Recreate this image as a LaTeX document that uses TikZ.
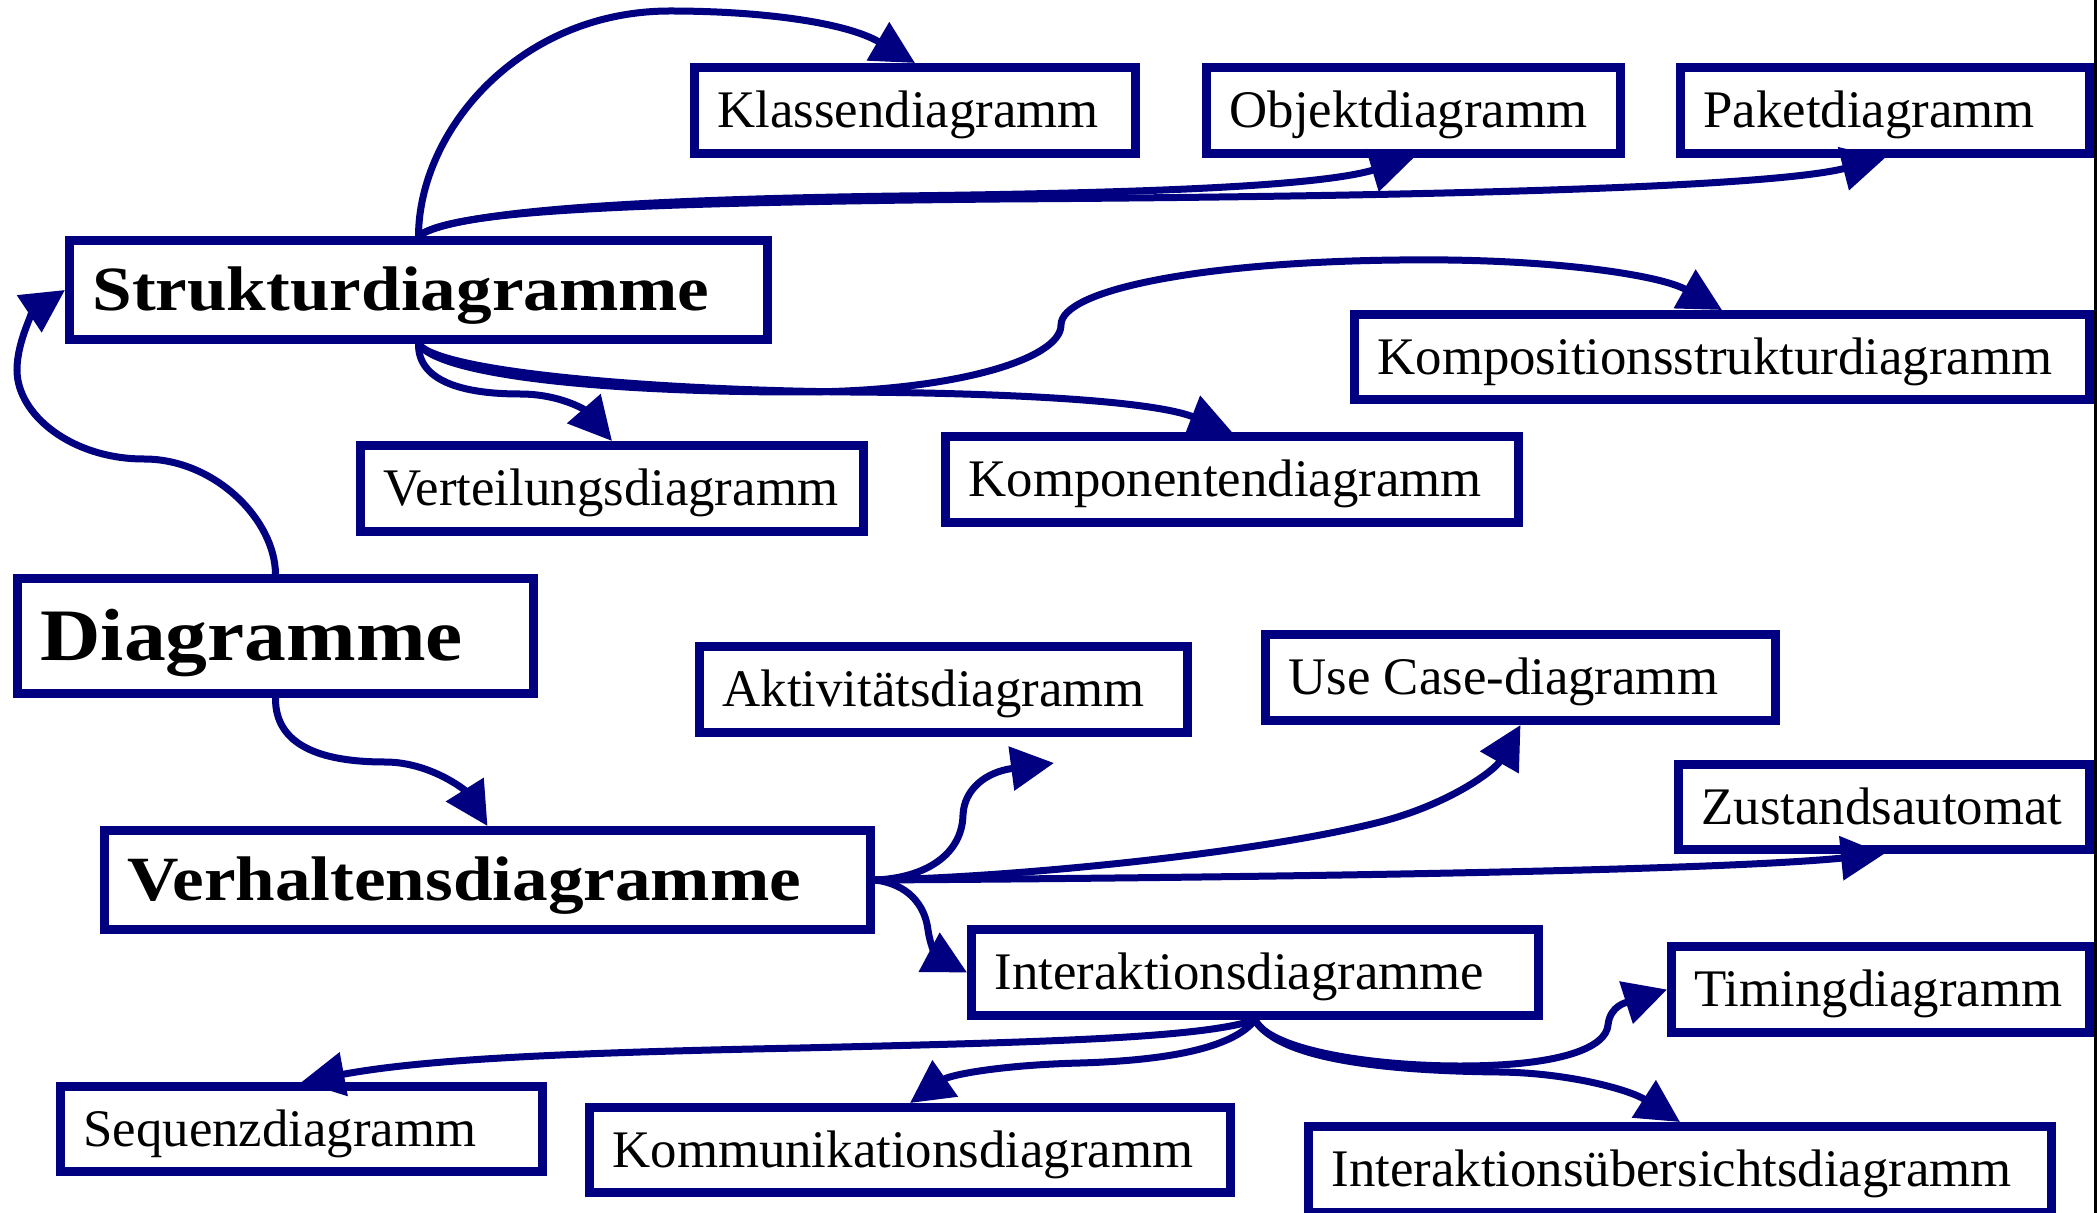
\documentclass[tikz,border=0pt]{standalone}
\usepackage{fontspec}
\setmainfont{Liberation Serif}
\newfontfamily\umlheadfont{Liberation Serif}[FakeStretch=1.13]
\usetikzlibrary{arrows.meta}
\definecolor{navyline}{RGB}{0,0,128}

\tikzset{
  umlbox/.style={draw=navyline, line width=4.5pt, fill=white, text=black,
    anchor=north west, inner sep=0pt, outer sep=2.25pt,
    text height=17.4pt, text depth=0pt,
    font=\fontsize{26.4pt}{31pt}\selectfont},
  umlhead/.style={font=\umlheadfont\bfseries\fontsize{31.5pt}{38pt}\selectfont, text height=20.9pt},
  umltop/.style={font=\umlheadfont\bfseries\fontsize{37pt}{44pt}\selectfont, text height=24.5pt},
  conn/.style={draw=navyline, line width=3.5pt,
    -{Triangle[length=21.5pt,width=21.5pt]}},
}

% box with outer edges L,T,R,B (in px); label set flush left
\newcommand{\umlbox}[7][]{%
  \pgfmathsetmacro{\umlbw}{(#5-#3-9)*0.5}%
  \pgfmathsetmacro{\umlbh}{(#6-#4-9)*0.5}%
  \node[umlbox,#1,minimum width=\umlbw pt,minimum height=\umlbh pt] (#2) at (#3,#4)
    {\makebox[\umlbw pt][l]{\hspace*{11.5pt}#7}};%
}

\begin{document}
\begin{tikzpicture}[x=0.5pt,y=-0.5pt]
\fill[white] (0,0) rectangle (2098,1213);
\useasboundingbox (0,0) rectangle (2098,1213);

% structure diagrams
\umlbox{klassen}{690}{63}{1140}{158}{Klassendiagramm}
\umlbox{objekt}{1202}{63}{1625}{158}{Objektdiagramm}
\umlbox{paket}{1676}{63}{2094}{158}{Paketdiagramm}
\umlbox[umlhead]{struktur}{65}{236}{772}{344}{Strukturdiagramme}
\umlbox{kompos}{1350}{310}{2094}{404}{Kompositionsstrukturdiagramm}
\umlbox{verteil}{356}{441}{868}{536}{Verteilungsdiagramm}
\umlbox{kompon}{941}{432}{1523}{527}{Komponentendiagramm}

% root
\umlbox[umltop]{diagramme}{13}{574}{538}{698}{Diagramme}

% behaviour diagrams
\umlbox{aktiv}{695}{642}{1192}{737}{Aktivitätsdiagramm}
\umlbox{usecase}{1261}{630}{1780}{725}{Use Case-diagramm}
\umlbox{zustand}{1674}{760}{2094}{854}{Zustandsautomat}
\umlbox[umlhead]{verhalten}{100}{826}{875}{934}{Verhaltensdiagramme}
\umlbox{interakt}{967}{925}{1543}{1020}{Interaktionsdiagramme}
\umlbox{timing}{1667}{942}{2094}{1037}{Timingdiagramm}
\umlbox{sequenz}{56}{1082}{547}{1176}{Sequenzdiagramm}
\umlbox{kommun}{585}{1103}{1235}{1197}{Kommunikationsdiagramm}
\umlbox{uebersicht}{1304}{1122}{2056}{1217}{Interaktionsübersichtsdiagramm}

\coordinate (aktTip) at (1054,763);

% connectors
\draw[conn] (diagramme.north) .. controls (275,520) and (215,459) .. (144,459)
  .. controls (72,459) and (17,415) .. (17,370)
  .. controls (17,340) and (35,310) .. (struktur.west);

\draw[conn] (struktur.north) .. controls (419,130) and (520,11) .. (670,11)
  .. controls (760,11) and (845,22) .. (klassen.north);
\draw[conn] (struktur.north) .. controls (450,214) and (600,200) .. (900,196)
  .. controls (1150,193) and (1320,186) .. (objekt.south);
\draw[conn] (struktur.north) .. controls (450,212) and (600,203) .. (1000,199)
  .. controls (1500,196) and (1780,185) .. (paket.south);

\draw[conn] (struktur.south) .. controls (418,380) and (460,394) .. (520,394)
  .. controls (560,394) and (585,410) .. (verteil.north);
\draw[conn] (struktur.south) .. controls (440,375) and (600,392) .. (800,392)
  .. controls (950,392) and (1061,360) .. (1061,325)
  .. controls (1061,290) and (1200,262) .. (1400,260)
  .. controls (1550,258) and (1660,275) .. (kompos.north);
\draw[conn] (struktur.south) .. controls (440,372) and (650,390) .. (850,392)
  .. controls (1000,393) and (1150,400) .. (kompon.north);

\draw[conn] (diagramme.south) .. controls (275,745) and (320,762) .. (385,762)
  .. controls (430,762) and (465,790) .. (verhalten.north);

\draw[conn] (verhalten.east) .. controls (925,878) and (962,855) .. (963,815)
  .. controls (964,790) and (985,772) .. (aktTip);
\draw[conn] (verhalten.east) .. controls (1000,878) and (1250,855) .. (1380,822)
  .. controls (1450,804) and (1495,770) .. (usecase.south);
\draw[conn] (verhalten.east) .. controls (1200,878) and (1700,872) .. (zustand.south);
\draw[conn] (verhalten.east) .. controls (908,884) and (925,905) .. (928,930)
  .. controls (931,950) and (938,957) .. (interakt.west);

\draw[conn] (interakt.south) .. controls (1200,1038) and (1050,1042) .. (800,1048)
  .. controls (550,1053) and (420,1060) .. (sequenz.north);
\draw[conn] (interakt.south) .. controls (1235,1045) and (1180,1060) .. (1080,1063)
  .. controls (1000,1065) and (950,1075) .. (kommun.north);
\draw[conn] (interakt.south) .. controls (1270,1050) and (1370,1066) .. (1460,1066)
  .. controls (1560,1066) and (1606,1048) .. (1608,1025)
  .. controls (1610,1005) and (1628,1002) .. (timing.west);
\draw[conn] (interakt.south) .. controls (1280,1062) and (1400,1071) .. (1500,1072)
  .. controls (1570,1073) and (1630,1090) .. (uebersicht.north);

% page edge rule
\draw[black, line width=1.5pt] (2095.5,0) -- (2095.5,1213);
\end{tikzpicture}
\end{document}
